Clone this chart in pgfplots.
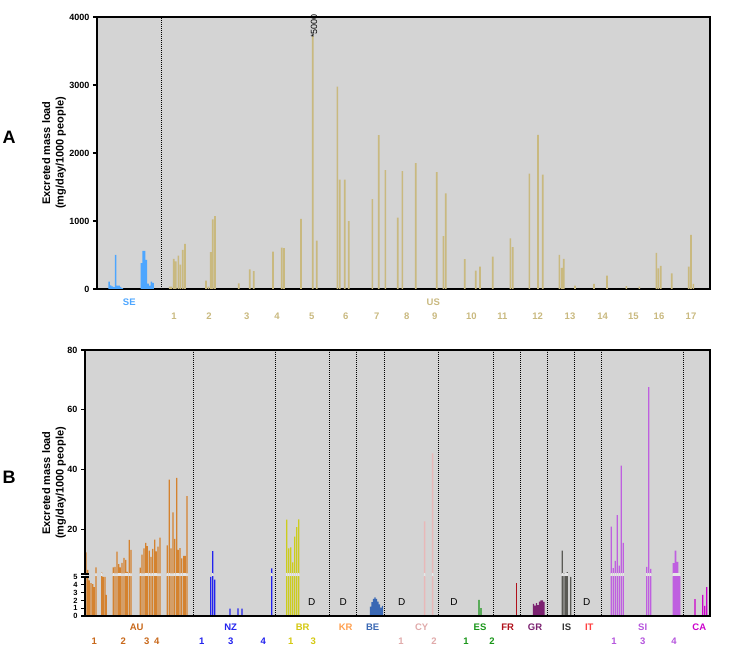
\documentclass[border=0pt]{standalone}
\usepackage{pgfplots}
\pgfplotsset{compat=1.18}
\usepackage{pgfplotstable}
\usepackage{fontspec}
\setmainfont{Liberation Sans}

\definecolor{bgc}{HTML}{D4D4D4}
\definecolor{gapc}{HTML}{E6E6E6}
\definecolor{cSE}{HTML}{4DA6FF}
\definecolor{cUS}{HTML}{C9B97F}
\definecolor{cAU}{HTML}{D4822F}
\definecolor{tAU}{HTML}{C8681A}
\definecolor{cNZ}{HTML}{2222EE}
\definecolor{cBR}{HTML}{CCCC1E}
\definecolor{tBR}{HTML}{D4C810}
\definecolor{cKR}{HTML}{FFA050}
\definecolor{cBE}{HTML}{3A68B4}
\definecolor{cCY}{HTML}{E8B8B8}
\definecolor{tCY}{HTML}{E0AAAA}
\definecolor{cES}{HTML}{199619}
\definecolor{cFR}{HTML}{B0101A}
\definecolor{cGR}{HTML}{7B2170}
\definecolor{cIS}{HTML}{5A5A55}
\definecolor{tIS}{HTML}{333333}
\definecolor{cIT}{HTML}{FF4040}
\definecolor{cSI}{HTML}{BF5FE0}
\definecolor{tSI}{HTML}{B555DD}
\definecolor{cCA}{HTML}{CC00CC}

% ---- panel A data (x = position along the axis) ----
\pgfplotstableread{
x y
109.0 110
110.7 55
112.3 38
114.0 28
115.7 500
117.3 50
119.0 50
120.7 30
122.3 12
141.3 380
143.0 560
144.7 560
146.3 430
148.0 80
149.7 50
151.3 110
153.0 90
}\SE

\pgfplotstableread{
x y
169.7 35
171.3 35
173.7 443
175.7 408
178.3 492
180.3 359
182.7 576
185.0 664
206.0 123
208.3 34
210.7 541
212.7 1023
215.0 1072
238.7 84
249.7 290
253.7 261
273.0 551
281.7 610
284.0 600
301.0 1033
312.7 3720
316.7 713
337.3 2977
339.7 1609
344.7 1609
348.7 999
372.3 1323
378.7 2263
385.3 1747
397.7 1048
402.3 1732
415.7 1850
436.7 1717
443.3 777
445.7 1407
464.7 438
475.7 271
480.0 330
492.7 477
510.3 743
512.7 615
529.3 1697
538.0 2268
542.7 1683
559.3 502
561.7 310
563.7 443
575.0 49
594.0 74
607.0 197
626.3 44
639.3 34
656.3 531
658.3 305
660.7 340
671.7 231
688.7 330
691.0 797
693.3 74
}\US

% ---- panel B data ----
\pgfplotstableread{
x y
86.0 12.2
87.7 6.4
89.3 4.56
91.0 4.2
92.7 4.1
94.3 3.7
96.0 7.2
101.7 5.5
103.3 5.0
105.0 5.0
106.3 2.7
113.3 7.2
115.0 7.4
117.0 12.5
118.7 8.3
120.3 7.2
122.0 8.7
124.0 10.4
125.7 9.7
127.3 5.7
129.3 16.4
131.0 13.1
140.3 7.1
142.0 11.5
144.0 13.6
145.7 15.4
147.3 14.3
149.3 12.8
151.0 10.7
152.7 13.4
154.7 16.5
156.3 12.6
158.0 14.2
160.0 17.2
167.3 14.6
169.3 36.6
171.0 13.6
173.0 25.6
174.7 16.8
176.7 37.2
178.3 13.1
180.0 13.7
181.7 10.2
183.7 11.1
185.3 11.1
187.0 31.1
}\AU

\pgfplotstableread{
x y
210.7 5.0
212.7 12.7
214.7 4.65
230.0 0.95
238.0 0.97
242.0 0.95
271.7 6.9
}\NZ

\pgfplotstableread{
x y
286.7 23.2
288.7 13.6
290.7 13.9
292.7 8.9
294.7 17.5
296.7 20.7
298.7 23.3
}\BR

\pgfplotstableread{
x y
370.5 1.2
372.0 1.77
373.5 2.2
375.0 2.4
376.5 2.2
378.0 1.85
379.5 1.5
381.0 1.07
382.5 1.3
}\BE

\pgfplotstableread{
x y
424.7 22.6
432.7 45.4
}\CY

\pgfplotstableread{
x y
479.0 2.07
481.0 1.0
}\ES

\pgfplotstableread{
x y
516.3 4.26
}\FR

\pgfplotstableread{
x y
533.5 1.55
535.0 1.33
536.5 1.64
538.0 1.4
539.5 1.85
541.0 2.0
542.5 2.0
544.0 1.8
}\GR

\pgfplotstableread{
x y
562.3 12.8
564.0 5.3
565.7 5.3
567.3 5.6
570.7 5.0
}\IS

\pgfplotstableread{
x y
611.3 20.9
613.3 7.0
615.3 9.4
617.3 24.7
619.3 7.8
621.3 41.3
623.3 15.4
646.7 7.4
648.7 67.6
650.7 6.7
}\SI

\pgfplotstableread{
x y
673.5 8.6
675.5 12.8
677.5 9.1
679.5 5.2
}\SIb

\pgfplotstableread{
x y
695.0 2.15
702.7 2.7
704.7 1.3
706.7 3.7
}\CA

\newcommand\Bplots[1]{%
  \addplot[fill=cAU,#1] table {\AU};
  \addplot[fill=cNZ,#1] table {\NZ};
  \addplot[fill=cBR,#1] table {\BR};
  \addplot[fill=cBE,#1] table {\BE};
  \addplot[fill=cCY,bar width=1.5pt,#1] table {\CY};
  \addplot[fill=cES,#1] table {\ES};
  \addplot[fill=cFR,#1] table {\FR};
  \addplot[fill=cGR,#1] table {\GR};
  \addplot[fill=cIS,#1] table {\IS};
  \addplot[fill=cSI,#1] table {\SI};
  \addplot[fill=cSI,bar width=1.9pt,#1] table {\SIb};
  \addplot[fill=cCA,#1] table {\CA};
}

\pgfplotsset{
  barax/.style={
    scale only axis,
    xtick=\empty,
    ytick pos=left,
    tick align=outside,
    major tick length=4pt,
    tick style={line width=1.1pt,black},
    tick label style={font=\bfseries\fontsize{9}{10}\selectfont},
    /pgf/number format/assume math mode=true,
    every axis plot/.append style={ybar, bar width=1.3pt, bar shift=0pt, draw=none},
  },
}

\begin{document}
\begin{tikzpicture}
\useasboundingbox (0,0) rectangle (729pt,670pt);

% ================= Panel A =================
\begin{axis}[barax,
  at={(97pt,381pt)}, anchor=south west,
  width=613pt, height=272pt,
  xmin=97, xmax=710, ymin=0, ymax=4000,
  ytick={0,1000,2000,3000,4000},
  yticklabels={0,1000,2000,3000,4000},
  axis background/.style={fill=bgc},
  axis line style={line width=1.5pt},
]
\addplot[fill=cSE, bar width=1.5pt] table {\SE};
\addplot[fill=cUS, bar width=1.6pt] table {\US};
\end{axis}
\draw[line width=0.7pt, dash pattern=on 0.8pt off 1.2pt] (161.3pt,381pt) -- (161.3pt,653pt);
\node[rotate=90, font=\fontsize{9}{10}\selectfont, inner sep=0pt] at (314pt,644pt) {*5000};

\node[font=\bfseries\fontsize{18}{20}\selectfont] at (9pt,533pt) {A};
\node[rotate=90, align=center, font=\bfseries\fontsize{11}{13.5}\selectfont] at (54pt,517pt) {Excreted mass load\\(mg/day/1000 people)};

\begin{scope}[every node/.style={font=\bfseries\fontsize{9.5}{11}\selectfont, text=cUS}]
\node[text=cSE] at (129.3pt,368pt) {SE};
\node at (433.3pt,368pt) {US};
\foreach \p/\t in {174/1,209/2,246.7/3,277/4,311.7/5,345.7/6,376.7/7,406.7/8,434.7/9,471.3/10,502.3/11,537.7/12,570/13,602.7/14,633.3/15,659/16,691/17}
  \node at (\p pt,354pt) {\t};
\end{scope}

% ================= Panel B =================
\fill[bgc] (85pt,54pt) rectangle (710pt,320pt);

\begin{axis}[barax,
  at={(85pt,96pt)}, anchor=south west,
  width=625pt, height=224pt,
  xmin=85, xmax=710, ymin=5, ymax=80,
  ytick={20,40,60,80},
  axis line style={draw=none},
  restrict y to domain=5.05:1000,
]
\Bplots{}
\end{axis}

% light strip where the bars cross the axis break
\begin{axis}[barax,
  at={(85pt,93pt)}, anchor=south west,
  width=625pt, height=3pt,
  xmin=85, xmax=710, ymin=5, ymax=5.1,
  ytick=\empty,
  axis line style={draw=none},
  restrict y to domain=5.05:1000,
]
\Bplots{fill=gapc}
\end{axis}

\begin{axis}[barax,
  at={(85pt,54pt)}, anchor=south west,
  width=625pt, height=39pt,
  xmin=85, xmax=710, ymin=0, ymax=5,
  ytick={0,1,2,3,4,5},
  tick label style={font=\bfseries\fontsize{7.5}{8}\selectfont},
  axis line style={draw=none},
]
\Bplots{}
\end{axis}

% frame with axis break
\draw[line width=1.5pt] (85pt,96pt) -- (85pt,320pt) -- (710pt,320pt) -- (710pt,54pt) -- (85pt,54pt) -- (85pt,93pt);
\draw[line width=1.1pt] (81pt,96pt) -- (89pt,96pt) (81pt,93pt) -- (89pt,93pt);

\foreach \p in {193.3,275.3,329.3,356.7,384,438.3,493,520.3,547.3,574.3,601.7,683.3}
  \draw[line width=0.7pt, dash pattern=on 0.8pt off 1.2pt] (\p pt,55pt) -- (\p pt,319pt);

\node[font=\bfseries\fontsize{18}{20}\selectfont] at (9pt,193pt) {B};
\node[rotate=90, align=center, font=\bfseries\fontsize{11}{13.5}\selectfont] at (54pt,187pt) {Excreted mass load\\(mg/day/1000 people)};

\begin{scope}[every node/.style={font=\fontsize{10}{11}\selectfont}]
\foreach \p in {311.7,343.3,401.7,454,586.7}
  \node at (\p pt,68pt) {D};
\end{scope}

\begin{scope}[every node/.style={font=\bfseries\fontsize{9.5}{11}\selectfont}]
\node[text=tAU] at (136.7pt,43pt) {AU};
\foreach \p/\t in {94.3/1,123.3/2,146.7/3,156.7/4} \node[text=tAU] at (\p pt,29pt) {\t};
\node[text=cNZ] at (230.7pt,43pt) {NZ};
\foreach \p/\t in {201.7/1,230.7/3,263.3/4} \node[text=cNZ] at (\p pt,29pt) {\t};
\node[text=tBR] at (302.7pt,43pt) {BR};
\foreach \p/\t in {290.7/1,313.3/3} \node[text=tBR] at (\p pt,29pt) {\t};
\node[text=cKR] at (345.7pt,43pt) {KR};
\node[text=cBE] at (372.7pt,43pt) {BE};
\node[text=tCY] at (421.7pt,43pt) {CY};
\foreach \p/\t in {401/1,434/2} \node[text=tCY] at (\p pt,29pt) {\t};
\node[text=cES] at (480pt,43pt) {ES};
\foreach \p/\t in {466/1,492/2} \node[text=cES] at (\p pt,29pt) {\t};
\node[text=cFR] at (507.7pt,43pt) {FR};
\node[text=cGR] at (535pt,43pt) {GR};
\node[text=tIS] at (566.7pt,43pt) {IS};
\node[text=cIT] at (589.3pt,43pt) {IT};
\node[text=tSI] at (642.7pt,43pt) {SI};
\foreach \p/\t in {614/1,642.7/3,674/4} \node[text=tSI] at (\p pt,29pt) {\t};
\node[text=cCA] at (699.3pt,43pt) {CA};
\end{scope}

\end{tikzpicture}
\end{document}
